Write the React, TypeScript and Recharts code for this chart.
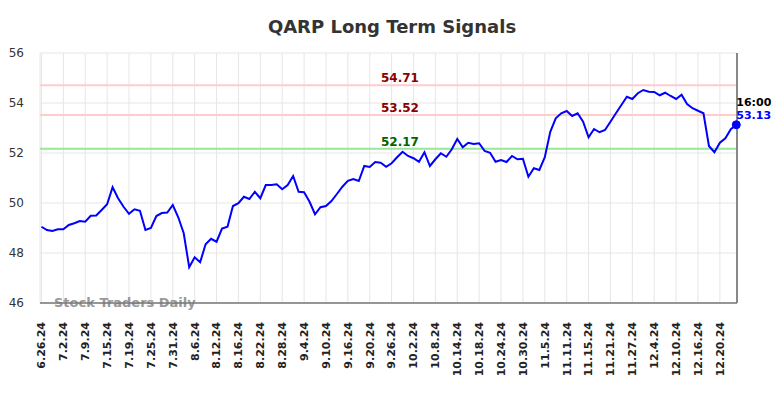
import {
  LineChart, Line, XAxis, YAxis, CartesianGrid,
  ReferenceLine, ReferenceDot, Customized,
} from 'recharts'

// one label every 4 sessions
const tickLabels = [
  '6.26.24', '7.2.24', '7.9.24', '7.15.24', '7.19.24', '7.25.24', '7.31.24', '8.6.24',
  '8.12.24', '8.16.24', '8.22.24', '8.28.24', '9.4.24', '9.10.24', '9.16.24', '9.20.24',
  '9.26.24', '10.2.24', '10.8.24', '10.14.24', '10.18.24', '10.24.24', '10.30.24', '11.5.24',
  '11.11.24', '11.15.24', '11.21.24', '11.27.24', '12.4.24', '12.10.24', '12.16.24', '12.20.24',
]

const closes = [
  49.05, 48.92, 48.88, 48.95, 48.95, 49.12, 49.19, 49.28, 49.25, 49.49, 49.50, 49.72, 49.95, 50.63, 50.19, 49.85,
  49.57, 49.75, 49.69, 48.92, 49.00, 49.48, 49.60, 49.62, 49.92, 49.43, 48.79, 47.43, 47.83, 47.63, 48.35, 48.57,
  48.45, 48.98, 49.05, 49.88, 49.99, 50.25, 50.16, 50.45, 50.19, 50.72, 50.72, 50.75, 50.55, 50.72, 51.08, 50.45,
  50.43, 50.05, 49.55, 49.83, 49.88, 50.08, 50.36, 50.65, 50.89, 50.96, 50.88, 51.48, 51.44, 51.64, 51.61, 51.45,
  51.59, 51.83, 52.05, 51.88, 51.79, 51.65, 52.03, 51.48, 51.75, 51.99, 51.85, 52.15, 52.56, 52.23, 52.41, 52.36,
  52.39, 52.08, 52.01, 51.65, 51.72, 51.64, 51.88, 51.75, 51.77, 51.05, 51.39, 51.32, 51.83, 52.85, 53.39, 53.59,
  53.68, 53.48, 53.59, 53.25, 52.63, 52.96, 52.83, 52.92, 53.25, 53.59, 53.92, 54.25, 54.16, 54.39, 54.52, 54.45,
  54.44, 54.31, 54.41, 54.28, 54.16, 54.33, 53.96, 53.79, 53.69, 53.59, 52.28, 52.03, 52.41, 52.59, 52.95, 53.13,
]

const yTicks = [46, 48, 50, 52, 54, 56]
const upperLevel = 54.71
const midLevel = 53.52
const lowerLevel = 52.17
const lastTime = '16:00'

const data = closes.map((v, i) => ({ i, v }))
const xTicks = tickLabels.map((_, k) => k * 4)
const lastIdx = closes.length - 1
const xMin = -0.27
const xMax = lastIdx + 0.13

const font = 'DejaVu Sans'

const DateTick = ({ x, y, payload }: any) => {
  const label = tickLabels[Math.round(payload.value / 4)]
  const ty = y + 11
  return (
    <text
      x={x} y={ty} transform={`rotate(-90, ${x}, ${ty})`} textAnchor="end" dy="0.35em"
      fill="#222" fontSize={11} fontWeight="bold" fontFamily={font}
    >
      {label}
    </text>
  )
}

const levelLabel = (text: string, color: string) => (props: any) => {
  const { viewBox } = props
  return (
    <text
      x={381} y={viewBox.y - 3} fill={color} fontSize={12} fontWeight="bold" fontFamily={font}
    >
      {text}
    </text>
  )
}

const LastLabel = (props: any) => {
  const { viewBox } = props
  const cx = viewBox.x + viewBox.width / 2
  return (
    <g fontFamily={font} fontWeight="bold" fontSize={11}>
      <text x={cx} y={106} fill="#000">{lastTime}</text>
      <text x={cx} y={119} fill="#0000ff">{closes[lastIdx].toFixed(2)}</text>
    </g>
  )
}

const Decorations = () => (
  <g>
    <text
      x={392} y={33} textAnchor="middle" fill="#333" fontSize={18} fontWeight="bold" fontFamily={font}
    >
      QARP Long Term Signals
    </text>
    <text x={54} y={307} fill="#999" fontSize={13} fontWeight="bold" fontFamily={font}>
      Stock Traders Daily
    </text>
  </g>
)

export default function App() {
  return (
    <div style={{ position: 'absolute', left: 0, top: 0, background: '#fff' }}>
      <LineChart
        width={784} height={398} data={data}
        margin={{ top: 53, right: 47, bottom: 0, left: 0 }}
      >
        <CartesianGrid stroke="#e6e6e6" strokeWidth={1} />
        <Customized component={Decorations} />
        <XAxis
          dataKey="i" type="number" domain={[xMin, xMax]} ticks={xTicks}
          height={95} tickLine={false} interval={0}
          axisLine={{ stroke: '#777', strokeWidth: 1.5 }}
          tick={<DateTick />}
        />
        <YAxis
          domain={[46, 56]} ticks={yTicks} width={40}
          axisLine={false} tickLine={false} tickMargin={10}
          tick={{ fill: '#333', fontSize: 12, fontFamily: font }}
        />
        <ReferenceLine y={upperLevel} stroke="#ffcccc" strokeWidth={2}
          label={levelLabel(upperLevel.toFixed(2), '#8b0000')} />
        <ReferenceLine y={midLevel} stroke="#ffcccc" strokeWidth={2}
          label={levelLabel(midLevel.toFixed(2), '#8b0000')} />
        <ReferenceLine y={lowerLevel} stroke="#99e699" strokeWidth={2}
          label={levelLabel(lowerLevel.toFixed(2), '#006400')} />
        <ReferenceLine x={xMax} stroke="#888" strokeWidth={2} />
        <Line
          type="linear" dataKey="v" stroke="#0000ff" strokeWidth={2}
          dot={false} activeDot={false} isAnimationActive={false}
        />
        <ReferenceDot x={lastIdx} y={closes[lastIdx]} r={4} fill="#0000ff" stroke="#0000ff"
          label={<LastLabel />} />
      </LineChart>
    </div>
  )
}
